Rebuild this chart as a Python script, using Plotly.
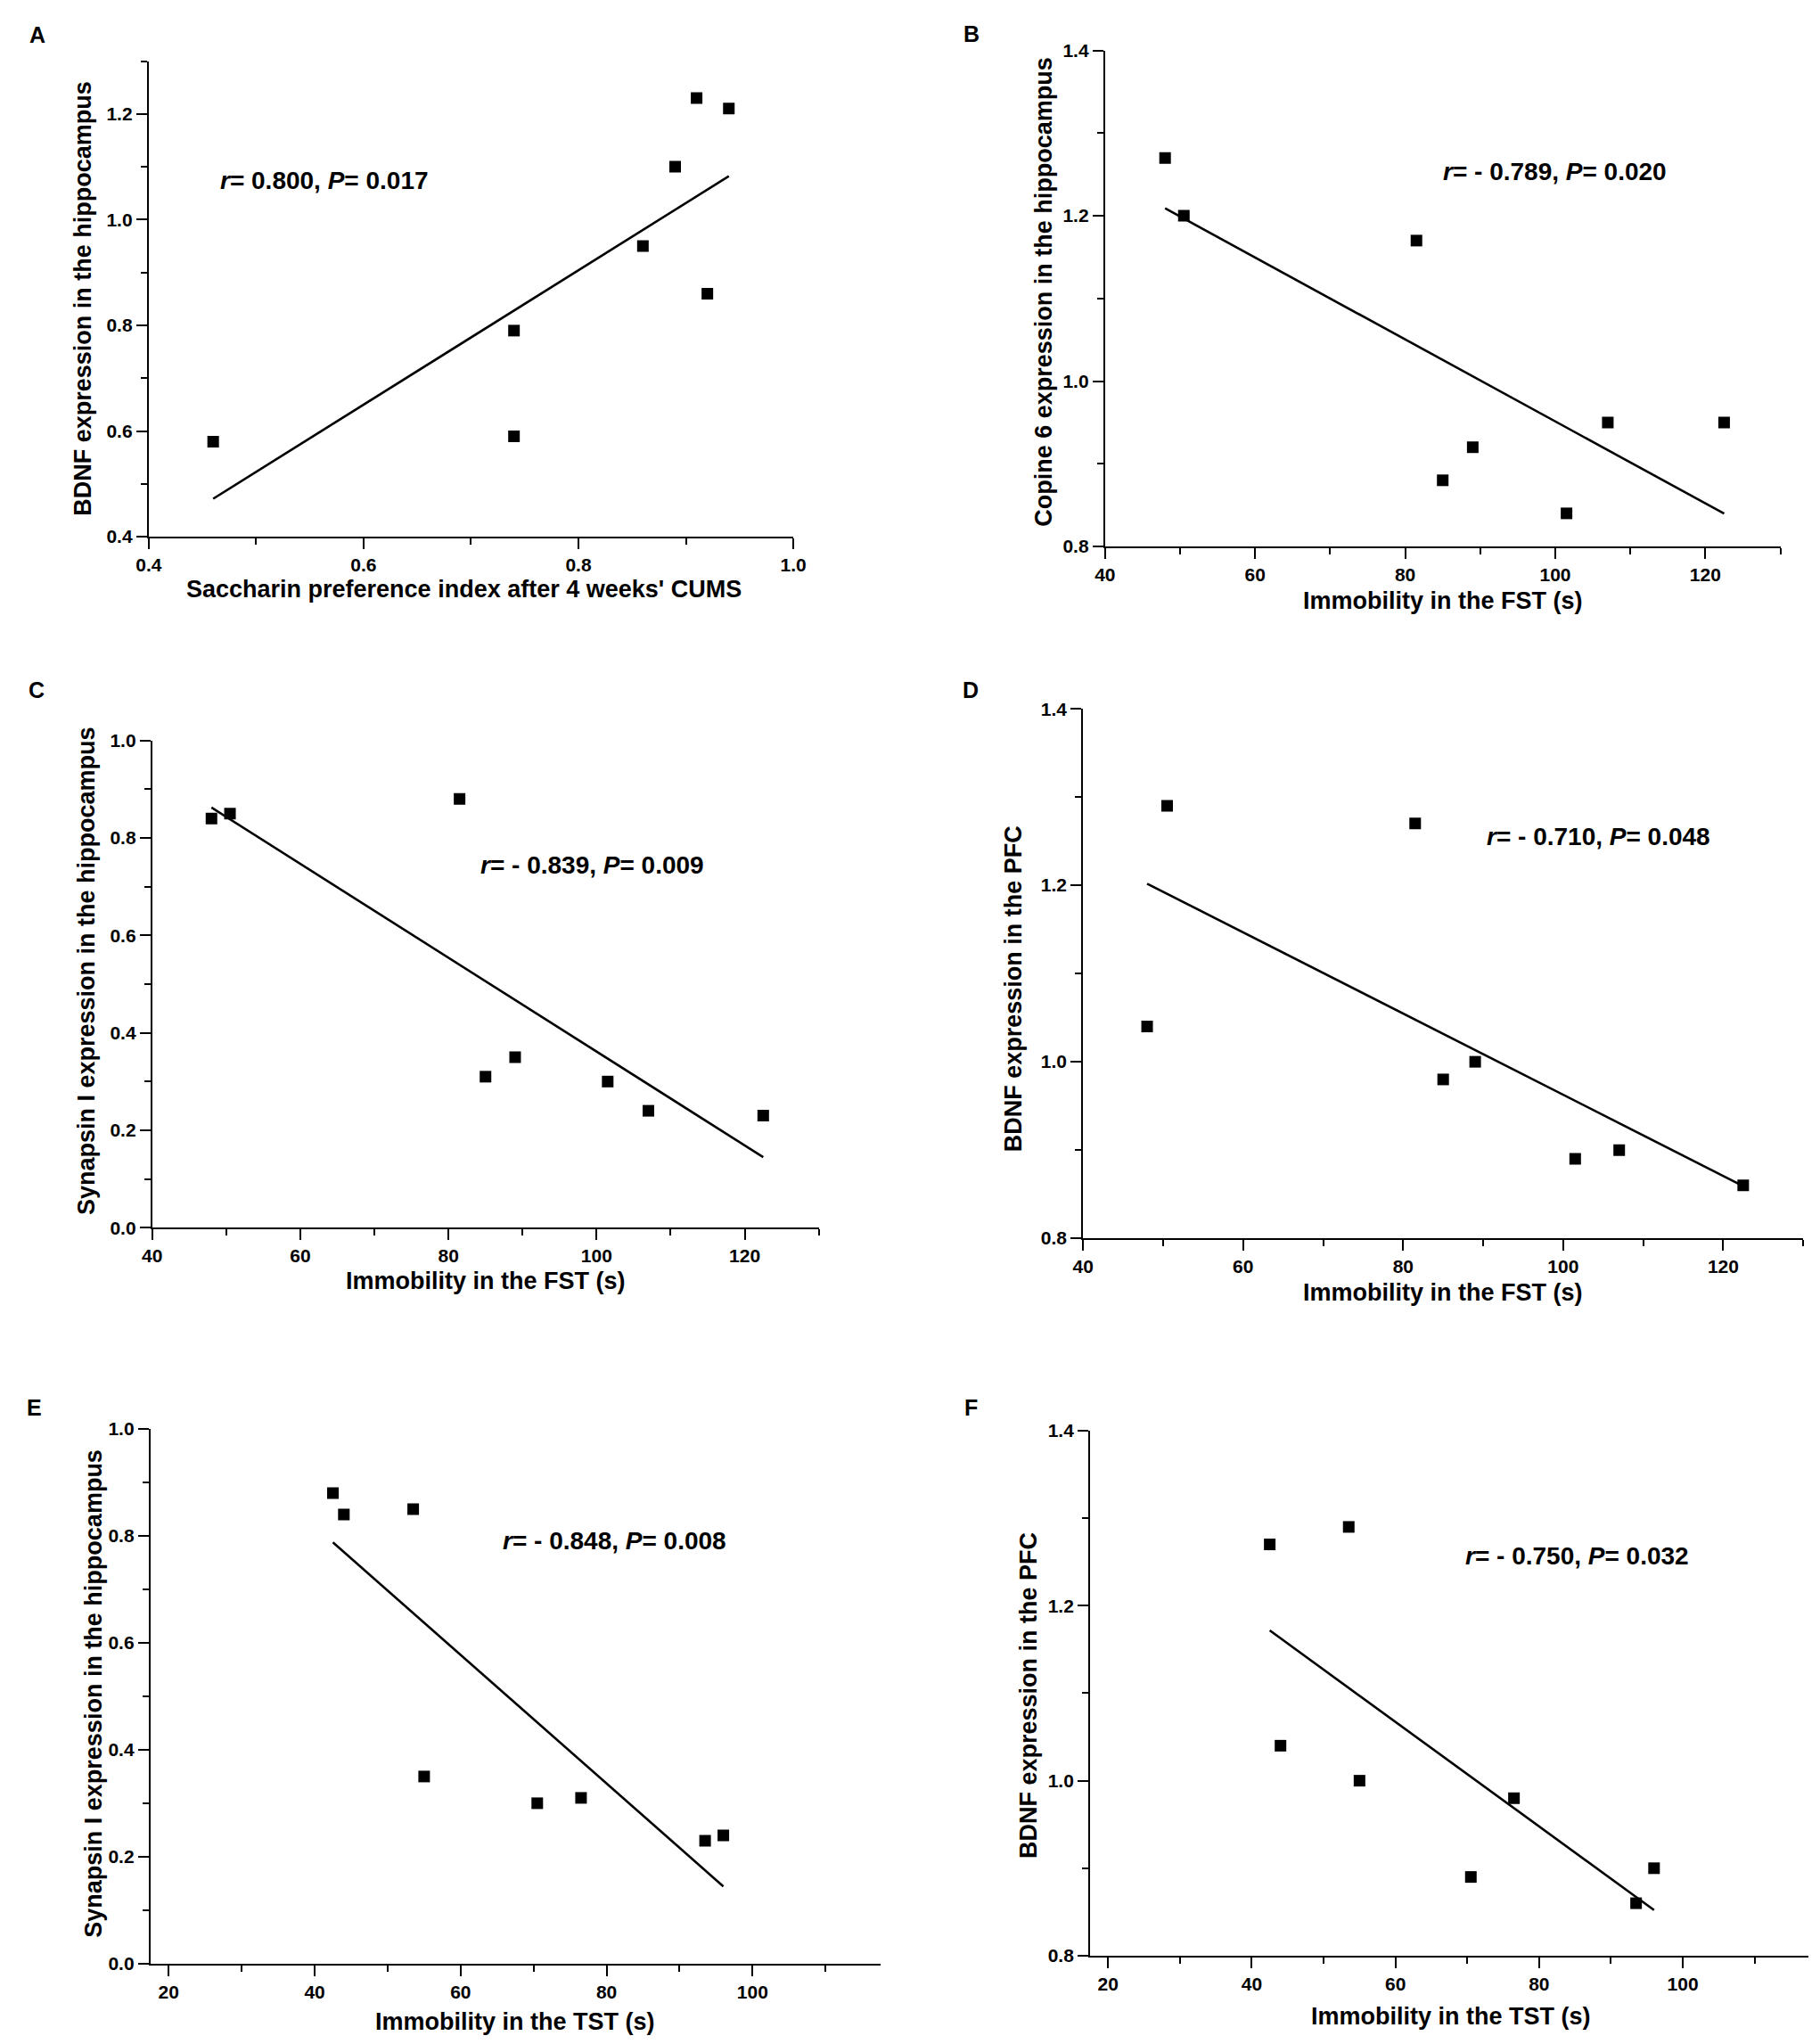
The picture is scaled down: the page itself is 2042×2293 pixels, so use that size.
import numpy as np
import plotly.graph_objects as go

W, H = 2042, 2293

# shared x values (same 8 animals)
fst_s = [48, 50.5, 81.5, 85, 89, 101.5, 107, 122.5]
tst_s = [42.5, 44, 53.5, 55, 70.5, 76.5, 93.5, 96]
spi = [0.46, 0.74, 0.74, 0.86, 0.89, 0.91, 0.92, 0.94]

# y values per panel
bdnf_hip_a = [0.58, 0.79, 0.59, 0.95, 1.10, 1.23, 0.86, 1.21]
copine6_hip_b = [1.27, 1.20, 1.17, 0.88, 0.92, 0.84, 0.95, 0.95]
synapsin_hip_c = [0.84, 0.85, 0.88, 0.31, 0.35, 0.30, 0.24, 0.23]
bdnf_pfc_d = [1.04, 1.29, 1.27, 0.98, 1.00, 0.89, 0.90, 0.86]
synapsin_hip_e = [0.88, 0.84, 0.85, 0.35, 0.30, 0.31, 0.23, 0.24]
bdnf_pfc_f = [1.27, 1.04, 1.29, 1.00, 0.89, 0.98, 0.86, 0.90]

stats_text = [
    "<i>r</i>= 0.800, <i>P</i>= 0.017",
    "<i>r</i>= - 0.789, <i>P</i>= 0.020",
    "<i>r</i>= - 0.839, <i>P</i>= 0.009",
    "<i>r</i>= - 0.710, <i>P</i>= 0.048",
    "<i>r</i>= - 0.848, <i>P</i>= 0.008",
    "<i>r</i>= - 0.750, <i>P</i>= 0.032",
]
x_titles = [
    "Saccharin preference index after 4 weeks' CUMS",
    "Immobility in the FST (s)",
    "Immobility in the FST (s)",
    "Immobility in the FST (s)",
    "Immobility in the TST (s)",
    "Immobility in the TST (s)",
]
y_titles = [
    "BDNF expression in the hippocampus",
    "Copine 6 expression in the hippocampus",
    "Synapsin I expression in the hippocampus",
    "BDNF expression in the PFC",
    "Synapsin I expression in the hippocampus",
    "BDNF expression in the PFC",
]
letters = ["A", "B", "C", "D", "E", "F"]

FONT = "Liberation Sans, Arial, Helvetica, sans-serif"

# layout of each panel in pixels: plot box, axis ranges, ticks, label spots
panels = [
    dict(x=spi, y=bdnf_hip_a, box=(146, 880, 49, 588), xr=(0.4, 1.0), yr=(0.4, 1.3),
         xd=0.2, xm=0.1, yd=0.2, ym=0.1, xf=".1f",
         stat=(225, 184), xt=(505, 647), yt=(71, 318), let=(19, 19)),
    dict(x=fst_s, y=copine6_hip_b, box=(1235, 2004, 37, 599), xr=(40, 130), yr=(0.8, 1.4),
         xd=20, xm=10, yd=0.2, ym=0.1, xf="d",
         stat=(1618, 174), xt=(1620, 661), yt=(1165, 310), let=(1083, 18)),
    dict(x=fst_s, y=synapsin_hip_c, box=(150, 909, 819, 1371), xr=(40, 130), yr=(0.0, 1.0),
         xd=20, xm=10, yd=0.2, ym=0.1, xf="d",
         stat=(522, 960), xt=(530, 1431), yt=(75, 1080), let=(18, 762)),
    dict(x=fst_s, y=bdnf_pfc_d, box=(1210, 2030, 783, 1383), xr=(40, 130), yr=(0.8, 1.4),
         xd=20, xm=10, yd=0.2, ym=0.1, xf="d",
         stat=(1667, 928), xt=(1620, 1444), yt=(1131, 1100), let=(1082, 762)),
    dict(x=tst_s, y=synapsin_hip_e, box=(148, 979, 1599, 2205), xr=(17.5, 117.5), yr=(0.0, 1.0),
         xd=20, xm=10, yd=0.2, ym=0.1, xf="d",
         stat=(547, 1726), xt=(563, 2271), yt=(83, 1899), let=(16, 1575)),
    dict(x=tst_s, y=bdnf_pfc_f, box=(1218, 2036, 1601, 2196), xr=(17.5, 117.5), yr=(0.8, 1.4),
         xd=20, xm=10, yd=0.2, ym=0.1, xf="d",
         stat=(1643, 1743), xt=(1629, 2265), yt=(1148, 1901), let=(1082, 1575)),
]

fig = go.Figure()
annotations = []
layout = {}


def px_x(v):
    return v / W


def px_y(v):
    return 1 - v / H


def label(x, y, text, size, anchor="center", angle=0):
    return dict(x=px_x(x), y=px_y(y), xref="paper", yref="paper",
                text="<b>" + text + "</b>", showarrow=False, textangle=angle,
                xanchor=anchor, yanchor="middle",
                font=dict(family=FONT, size=size, color="black"))


for i, p in enumerate(panels):
    n = "" if i == 0 else str(i + 1)
    xa, ya = "x" + n, "y" + n
    x = np.array(p["x"], dtype=float)
    y = np.array(p["y"], dtype=float)

    # linear regression line over the data span
    slope, icpt = np.polyfit(x, y, 1)
    xs = np.array([x.min(), x.max()])
    fig.add_trace(go.Scatter(x=xs, y=slope * xs + icpt, mode="lines",
                             line=dict(color="black", width=2.6),
                             xaxis=xa, yaxis=ya, showlegend=False, hoverinfo="skip"))
    fig.add_trace(go.Scatter(x=x, y=y, mode="markers",
                             marker=dict(symbol="square", size=13, color="black"),
                             xaxis=xa, yaxis=ya, showlegend=False))

    l, r, t, b = p["box"]
    common = dict(showline=True, linecolor="black", linewidth=2, showgrid=False,
                  zeroline=False, ticks="outside", ticklen=12, tickwidth=2,
                  tickcolor="black",
                  tickfont=dict(family=FONT, size=21, color="black", weight="bold"))
    layout["xaxis" + n] = dict(common, domain=[px_x(l), px_x(r)], range=list(p["xr"]),
                               anchor=ya, tick0=0, dtick=p["xd"], tickformat=p["xf"],
                               minor=dict(dtick=p["xm"], tick0=0, ticks="outside",
                                          ticklen=7, tickwidth=2, tickcolor="black"))
    layout["yaxis" + n] = dict(common, domain=[px_y(b), px_y(t)], range=list(p["yr"]),
                               anchor=xa, tick0=0, dtick=p["yd"], tickformat=".1f",
                               minor=dict(dtick=p["ym"], tick0=0, ticks="outside",
                                          ticklen=7, tickwidth=2, tickcolor="black"))

    annotations.append(label(*p["stat"], stats_text[i], 28, anchor="left"))
    annotations.append(label(*p["xt"], x_titles[i], 27))
    annotations.append(label(*p["yt"], y_titles[i], 27, angle=-90))
    annotations.append(label(*p["let"], letters[i], 25))

fig.update_layout(width=W, height=H, margin=dict(l=0, r=0, t=0, b=0),
                  paper_bgcolor="white", plot_bgcolor="white",
                  annotations=annotations, **layout)

fig.write_html("out.html")
